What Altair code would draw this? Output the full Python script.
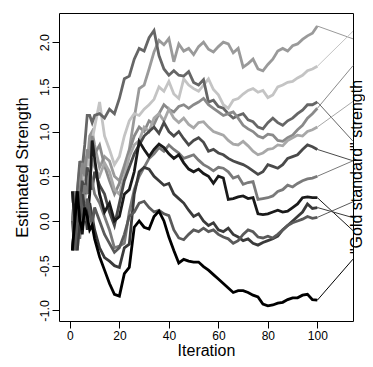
import altair as alt
import pandas as pd

# iteration grid at which values were read
ITER = [1, 2, 3, 4, 5, 6, 7, 8, 9, 10] + list(range(12, 101, 2))

L1 = [0.33, 0.0, 0.33, 0.6, 0.45, 0.7, 0.65, 0.95, 1.0, 0.85, 0.6, 0.72, 0.67, 0.5, 0.45, 0.62, 0.8, 1.15, 1.48, 1.52,
      1.7, 1.89, 2.02, 1.97, 2.04, 1.78, 1.98, 1.9, 1.93, 1.86, 1.95, 2.0, 1.92, 1.89, 1.95, 2.0, 1.98, 1.88, 1.93, 1.72,
      1.76, 1.81, 1.7, 1.68, 1.75, 1.81, 1.9, 1.93, 1.9, 1.96, 1.98, 2.03, 2.07, 2.1, 2.18]
L2 = [0.0, -0.33, 0.0, 0.3, 0.6, 0.45, 0.7, 0.62, 0.9, 1.05, 1.33, 0.95, 0.8, 0.63, 0.72, 0.95, 1.12, 1.2, 1.18, 1.25,
      1.3, 1.36, 1.5, 1.45, 1.56, 1.42, 1.37, 1.59, 1.52, 1.48, 1.45, 1.52, 1.59, 1.47, 1.41, 1.3, 1.26, 1.35, 1.37, 1.42,
      1.46, 1.48, 1.44, 1.46, 1.38, 1.41, 1.5, 1.52, 1.55, 1.56, 1.6, 1.63, 1.68, 1.7, 1.73]
L3 = [0.33, 0.0, 0.33, 0.67, 0.6, 0.85, 1.18, 1.18, 1.1, 1.18, 1.2, 1.15, 1.25, 1.2, 1.37, 1.59, 1.62, 1.81, 1.93, 1.9,
      2.05, 2.13, 1.85, 1.7, 1.63, 1.68, 1.63, 1.62, 1.67, 1.55, 1.52, 1.58, 1.33, 1.35, 1.28, 1.26, 1.2, 1.15, 1.18, 1.2,
      1.13, 1.11, 1.05, 1.03, 1.1, 1.15, 1.1, 1.07, 1.12, 1.15, 1.2, 1.24, 1.3, 1.3, 1.33]
L4 = [0.0, 0.33, 0.0, 0.3, 0.65, 0.5, 0.8, 0.7, 0.95, 0.75, 0.85, 0.62, 0.45, 0.3, 0.42, 0.6, 0.78, 0.95, 1.05, 1.0,
      1.12, 1.08, 1.2, 1.3, 1.25, 1.22, 1.28, 1.3, 1.26, 1.3, 1.33, 1.37, 1.3, 1.26, 1.22, 1.18, 1.2, 1.22, 1.15, 1.07,
      1.03, 1.0, 0.95, 0.93, 0.97, 0.96, 0.9, 0.89, 0.93, 0.96, 1.02, 1.07, 1.15, 1.2, 1.26]
L5 = [0.33, 0.0, -0.33, 0.0, 0.35, 0.2, 0.55, 0.45, 0.7, 0.6, 0.5, 0.65, 0.55, 0.35, 0.3, 0.5, 0.72, 0.85, 0.9, 1.05,
      1.0, 1.15, 1.2, 1.12, 1.25, 1.15, 1.1, 1.15, 1.08, 1.04, 1.1, 1.11, 1.05, 1.0, 0.98, 0.96, 0.9, 0.86, 0.85, 0.89,
      0.84, 0.78, 0.74, 0.76, 0.8, 0.81, 0.85, 0.84, 0.9, 0.93, 0.96, 0.95, 1.0, 1.02, 1.05]
L6 = [-0.33, 0.0, 0.33, 0.1, 0.45, 0.3, 0.6, 0.5, 0.35, 0.55, 0.4, 0.3, 0.1, -0.05, 0.2, 0.45, 0.6, 0.75, 0.85, 0.95,
      1.0, 1.05, 0.98, 1.1, 1.0, 0.95, 1.0, 0.92, 0.85, 0.9, 0.93, 0.88, 0.78, 0.8, 0.76, 0.74, 0.7, 0.67, 0.65, 0.63,
      0.6, 0.56, 0.52, 0.55, 0.63, 0.61, 0.59, 0.63, 0.7, 0.72, 0.74, 0.8, 0.85, 0.83, 0.80]
L7 = [0.0, 0.33, 0.0, -0.2, 0.15, 0.4, 0.3, 0.55, 0.45, 0.3, 0.2, 0.05, -0.1, -0.3, -0.28, -0.25, 0.1, 0.35, 0.5, 0.6,
      0.7, 0.75, 0.82, 0.78, 0.85, 0.8, 0.76, 0.7, 0.72, 0.74, 0.68, 0.63, 0.6, 0.56, 0.6, 0.59, 0.55, 0.48, 0.5, 0.41,
      0.43, 0.44, 0.24, 0.25, 0.26, 0.28, 0.33, 0.35, 0.4, 0.38, 0.42, 0.45, 0.47, 0.48, 0.50]
L8 = [0.33, 0.0, 0.33, 0.0, -0.15, 0.15, 0.0, 0.3, 0.9, 0.7, 0.3, 0.1, 0.2, 0.0, 0.05, 0.3, 0.35, 0.55, 0.89, 0.8,
      0.72, 0.8, 0.86, 0.82, 0.75, 0.7, 0.74, 0.65, 0.58, 0.55, 0.58, 0.53, 0.5, 0.42, 0.5, 0.48, 0.24, 0.25, 0.27, 0.28,
      0.25, 0.26, 0.08, 0.07, 0.08, 0.1, 0.12, 0.1, 0.11, 0.15, 0.19, 0.26, 0.27, 0.26, 0.26]
L9 = [-0.33, 0.0, -0.33, 0.0, 0.3, 0.15, -0.1, 0.2, 0.05, -0.1, -0.3, -0.41, -0.45, -0.5, -0.52, -0.3, -0.26, 0.3, 0.55, 0.6,
      0.58, 0.5, 0.45, 0.4, 0.42, 0.3, 0.25, 0.2, 0.12, 0.05, 0.08, 0.0, -0.05, -0.02, -0.1, -0.12, -0.08, -0.15, -0.18, -0.22,
      -0.2, -0.25, -0.27, -0.24, -0.22, -0.2, -0.17, -0.1, -0.05, 0.0, 0.05, 0.1, 0.19, 0.14, 0.15]
L10 = [0.0, -0.33, 0.0, 0.33, 0.1, 0.0, 0.25, 0.1, -0.05, 0.15, 0.0, -0.15, -0.25, -0.35, -0.3, -0.15, 0.05, 0.1, 0.2, 0.22,
       0.15, 0.1, 0.12, 0.08, 0.06, -0.1, -0.19, -0.21, -0.15, -0.1, -0.12, -0.08, -0.12, -0.1, -0.15, -0.18, -0.2, -0.25, -0.22, -0.15,
       -0.1, -0.12, -0.18, -0.19, -0.17, -0.19, -0.15, -0.1, -0.05, -0.02, 0.0, 0.02, 0.05, 0.03, 0.04]
L11 = [-0.33, 0.0, 0.33, 0.0, -0.1, 0.15, 0.05, -0.1, -0.05, -0.2, -0.4, -0.55, -0.7, -0.82, -0.84, -0.59, -0.52, -0.07, 0.0, -0.07,
       -0.09, 0.05, 0.11, 0.0, -0.18, -0.33, -0.47, -0.43, -0.45, -0.46, -0.46, -0.51, -0.55, -0.6, -0.65, -0.7, -0.75, -0.8, -0.78, -0.78,
       -0.8, -0.83, -0.85, -0.93, -0.95, -0.94, -0.92, -0.91, -0.88, -0.86, -0.86, -0.83, -0.82, -0.88, -0.886]

SERIES = [L1, L2, L3, L4, L5, L6, L7, L8, L9, L10, L11]
NAMES = ["L1", "L2", "L3", "L4", "L5", "L6", "L7", "L8", "L9", "L10", "L11"]
COLORS = ["#9a9a9a", "#c4c4c4", "#666666", "#8a8a8a", "#a8a8a8", "#4a4a4a",
          "#7a7a7a", "#1a1a1a", "#3a3a3a", "#5a5a5a", "#000000"]
# "gold standard" strength each estimate is linked to
GOLD = [2.037, 2.122, 0.892, 1.737, 1.337, 0.673, 0.673, -0.108, 0.037, 0.214, -0.427]

X_TICKS = [0, 20, 40, 60, 80, 100]
Y_TICKS = [-1.0, -0.5, 0.0, 0.5, 1.0, 1.5, 2.0]
X_DOMAIN = [-4.4, 114.4]
Y_DOMAIN = [-1.119, 2.326]
RIGHT_LABEL = '"Gold standard" strength'

rows = []
for name, vals in zip(NAMES, SERIES):
    for it, v in zip(ITER, vals):
        rows.append({"series": name, "iter": it, "value": v})
df = pd.DataFrame(rows)

cdf = pd.DataFrame({
    "series": NAMES,
    "x0": [ITER[-1]] * len(NAMES),
    "x1": [X_DOMAIN[1]] * len(NAMES),
    "y0": [s[-1] for s in SERIES],
    "y1": GOLD,
})

W, H = 294, 308
FONT = "Liberation Sans"
xs = alt.Scale(domain=X_DOMAIN, nice=False, zero=False)
ys = alt.Scale(domain=Y_DOMAIN, nice=False, zero=False)
cs = alt.Scale(domain=NAMES, range=COLORS)

xaxis = alt.Axis(values=X_TICKS, format="d", tickSize=7, labelPadding=2, labelFontSize=12,
                 labelFont=FONT, labelColor="black", tickColor="black", domain=False, grid=False,
                 title="Iteration", titleFont=FONT, titleFontSize=16, titleFontWeight="normal",
                 titleColor="black", titleX=W / 2, titleY=34, titleBaseline="alphabetic", titleAlign="center")
yaxis = alt.Axis(values=Y_TICKS, labelExpr="replace(format(datum.value, '.1f'), '\u2212', '-')",
                 tickSize=7, labelPadding=4, labelFontSize=12.5, labelFont=FONT, labelColor="black",
                 tickColor="black", labelAngle=270, labelAlign="center", labelBaseline="alphabetic",
                 domain=False, grid=False, title="Estimated Strength", titleFont=FONT, titleFontSize=16.5,
                 titleFontWeight="normal", titleColor="black", titleAngle=270, titleX=-32, titleY=H / 2,
                 titleBaseline="alphabetic", titleAlign="center")

lines = alt.Chart(df).mark_line(strokeWidth=2.8, clip=True).encode(
    x=alt.X("iter:Q", scale=xs, axis=xaxis),
    y=alt.Y("value:Q", scale=ys, axis=yaxis),
    color=alt.Color("series:N", scale=cs, legend=None),
)

rules = alt.Chart(cdf).mark_rule(strokeWidth=1).encode(
    x=alt.X("x0:Q", scale=xs),
    x2="x1",
    y=alt.Y("y0:Q", scale=ys),
    y2="y1",
    color=alt.Color("series:N", scale=cs, legend=None),
)

label = alt.Chart(pd.DataFrame({"t": [RIGHT_LABEL]})).mark_text(
    angle=270, align="center", baseline="alphabetic", fontSize=16, font=FONT, color="black"
).encode(x=alt.value(W + 8.5), y=alt.value(H / 2), text="t:N")

chart = alt.layer(rules, lines, label).properties(
    width=W, height=H,
    autosize=alt.AutoSizeParams(type="none"),
    padding={"left": 51, "top": 5, "right": 12, "bottom": 38},
).configure_view(stroke="black", strokeWidth=1)

chart.save("out.html", embed_options={"renderer": "svg", "actions": False})
